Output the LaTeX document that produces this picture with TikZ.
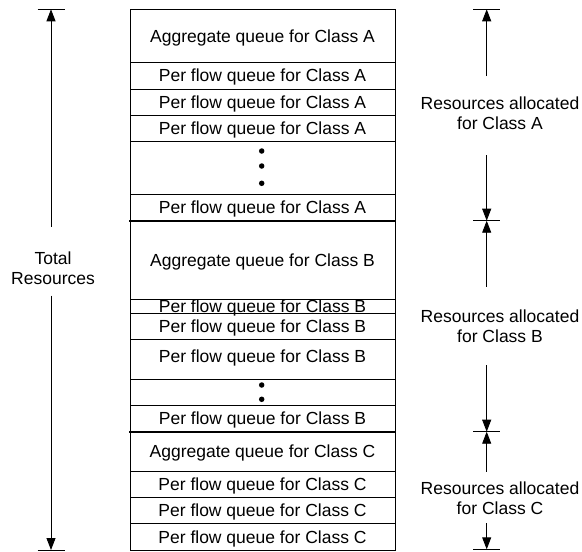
\documentclass[tikz,border=0pt]{standalone}
\usepackage{fontspec}
\setmainfont{Liberation Sans}
\usetikzlibrary{arrows.meta}
\begin{document}
\begin{tikzpicture}[x=1pt,y=-1pt,
  rowbox/.style={draw, line width=0.9pt, minimum width=265pt, inner sep=0pt},
  txt/.style={font=\fontsize{17.5}{20}\selectfont, inner sep=0pt, text height=12.5pt, text depth=0pt},
  lab/.style={font=\fontsize{17.5}{20}\selectfont, align=center, inner sep=0pt},
  arr/.style={line width=0.9pt, -{Triangle[length=12pt,width=9pt]}},
  tick/.style={line width=0.9pt},
  sep/.style={line width=2pt},
  dot/.style={circle, fill, inner sep=0pt, minimum size=5.5pt}]
\useasboundingbox (0,0) rectangle (582,552);
% ---- Class A rows
\node[rowbox, minimum height=53pt]   (a0) at (262.5,35.8)  {};
\node[rowbox, minimum height=26.7pt] (a1) at (262.5,75.65) {};
\node[rowbox, minimum height=26.3pt] (a2) at (262.5,102.15) {};
\node[rowbox, minimum height=26.4pt] (a3) at (262.5,128.5) {};
\node[rowbox, minimum height=52.6pt] (ad) at (262.5,168)   {};
\node[rowbox, minimum height=26.4pt] (a4) at (262.5,207.5) {};
% ---- Class B rows
\node[rowbox, minimum height=78.6pt] (b0) at (262.5,260)   {};
\node[rowbox, minimum height=14pt]   (b1) at (262.5,306.3) {};
\node[rowbox, minimum height=26pt]   (b2) at (262.5,326.3) {};
\node[rowbox, minimum height=40pt]   (b3) at (262.5,359.3) {};
\node[rowbox, minimum height=26.4pt] (bd) at (262.5,392.5) {};
\node[rowbox, minimum height=25.6pt] (b4) at (262.5,418.5) {};
% ---- Class C rows
\node[rowbox, minimum height=39.7pt] (c0) at (262.5,451.15) {};
\node[rowbox, minimum height=26.3pt] (c1) at (262.5,484.15) {};
\node[rowbox, minimum height=26.4pt] (c2) at (262.5,510.5) {};
\node[rowbox, minimum height=26.3pt] (c3) at (262.5,536.85) {};
% ---- texts
\node[txt] (ta0) at (a0) {Aggregate queue for Class A};
\node[txt] (ta1) at (a1) {Per flow queue for Class A};
\node[txt] (ta2) at (a2) {Per flow queue for Class A};
\node[txt] (ta3) at (a3) {Per flow queue for Class A};
\node[txt] (ta4) at (a4) {Per flow queue for Class A};
\node[txt] (tb0) at (b0) {Aggregate queue for Class B};
\node[txt] (tb1) at (262.5,306.7) {Per flow queue for Class B};
\node[txt] (tb2) at (b2) {Per flow queue for Class B};
\node[txt] (tb3) at (262.5,356.7) {Per flow queue for Class B};
\node[txt] (tb4) at (b4) {Per flow queue for Class B};
\node[txt] (tc0) at (262.5,451.7) {Aggregate queue for Class C};
\node[txt] (tc1) at (c1) {Per flow queue for Class C};
\node[txt] (tc2) at (c2) {Per flow queue for Class C};
\node[txt] (tc3) at (c3) {Per flow queue for Class C};
% ---- dots
\node[dot] (da1) at (261.7,151) {};
\node[dot] (da2) at (261.7,166) {};
\node[dot] (da3) at (261.7,183.3) {};
\node[dot] (db1) at (261.7,385) {};
\node[dot] (db2) at (261.7,399.3) {};
% ---- thick separators
\draw[sep] ([xshift=-0.5pt]a4.south west) -- ([xshift=0.5pt]a4.south east);
\draw[sep] ([xshift=-0.5pt]b4.south west) -- ([xshift=0.5pt]b4.south east);
% ---- left dimension
\coordinate (Ltop) at (51,9.3);
\coordinate (Lbot) at (51,550);
\coordinate (L1) at (51,226.7);
\coordinate (L2) at (51,295.7);
\draw[tick] ([xshift=-13.5pt]Ltop) -- ([xshift=13.5pt]Ltop);
\draw[tick] ([xshift=-13.5pt]Lbot) -- ([xshift=13.5pt]Lbot);
\draw[arr] (L1) -- (Ltop);
\draw[arr] (L2) -- (Lbot);
\node[lab] (ltot) at (53,268) {Total\\Resources};
% ---- right dimensions
\coordinate (tA) at (486.7,9.3);
\coordinate (tAB) at (486.7,220.7);
\coordinate (tBC) at (486.7,431.7);
\coordinate (tC) at (486.7,549.3);
\coordinate (gA1) at (486.7,76);
\coordinate (gA2) at (486.7,155);
\coordinate (gB1) at (486.7,286.7);
\coordinate (gB2) at (486.7,365);
\coordinate (gC1) at (486.7,471.7);
\coordinate (gC2) at (486.7,523.3);
\foreach \t in {tA,tAB,tBC,tC}
  \draw[tick] ([xshift=-13.5pt]\t) -- ([xshift=13.5pt]\t);
\draw[arr] (gA1) -- (tA);
\draw[arr] (gA2) -- (tAB);
\draw[arr] (gB1) -- (tAB);
\draw[arr] (gB2) -- (tBC);
\draw[arr] (gC1) -- (tBC);
\draw[arr] (gC2) -- (tC);
\node[lab] (rA) at (500,113.3) {Resources allocated\\for Class A};
\node[lab] (rB) at (500,326.7) {Resources allocated\\for Class B};
\node[lab] (rC) at (500,498.3) {Resources allocated\\for Class C};
\end{tikzpicture}
\end{document}
